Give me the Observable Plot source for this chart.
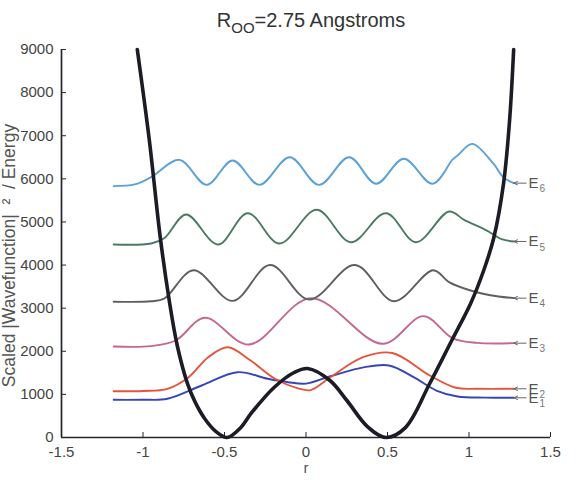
<!DOCTYPE html>
<html>
<head>
<meta charset="utf-8">
<script src="https://cdn.jsdelivr.net/npm/d3@7"></script>
<script src="https://cdn.jsdelivr.net/npm/@observablehq/plot@0.6"></script>
<style>
  html, body { margin: 0; padding: 0; background: #fff; }
  #chart { width: 579px; font-family: "Liberation Sans", Arial, sans-serif; }
  #title { height: 40px; position: relative; color: #333; font-size: 20px; }
  #title span.t { position: absolute; left: 0; width: 622px; text-align: center; top: 9px; }
  #title sub { font-size: 15px; vertical-align: -6px; line-height: 0; }
</style>
</head>
<body>
<div id="chart">
  <div id="title"><span class="t">R<sub>OO</sub>=2.75 Angstroms</span></div>
</div>
<script>
// Axis ticks
const xTicks = [-1.5, -1, -0.5, 0, 0.5, 1, 1.5];
const yTicks = [0, 1000, 2000, 3000, 4000, 5000, 6000, 7000, 8000, 9000];

// Double-well potential along the O–H–O coordinate, [r, V]
const potential = [
  [-1.035, 9000], [-0.961, 6890], [-0.894, 4640], [-0.839, 3178], [-0.790, 2134],
  [-0.727, 1250], [-0.68, 820], [-0.62, 430], [-0.55, 130], [-0.484, 0], [-0.40, 232],
  [-0.337, 557], [-0.196, 1160], [-0.073, 1508], [0.01, 1600], [0.147, 1322],
  [0.251, 858], [0.375, 260], [0.49, 0], [0.61, 230], [0.759, 1253], [0.894, 2250],
  [1.010, 3109], [1.090, 3874], [1.151, 4617], [1.212, 5893], [1.249, 7354], [1.274, 9000]
];

// Scaled |psi|^2 offset by each level's energy, [r, value]
const level1 = [
  [-1.18, 874], [-1.0, 876], [-0.85, 898], [-0.64, 1206], [-0.42, 1515], [-0.235, 1362],
  [-0.11, 1283], [0.0, 1250], [0.15, 1420], [0.36, 1631], [0.51, 1670], [0.66, 1400],
  [0.80, 1090], [0.93, 951], [1.1, 925], [1.275, 921]
];
const level2 = [
  [-1.18, 1074], [-1.0, 1080], [-0.85, 1130], [-0.72, 1400], [-0.60, 1863], [-0.48, 2095],
  [-0.34, 1786], [-0.19, 1362], [-0.05, 1140], [0.03, 1100], [0.15, 1399], [0.35, 1863],
  [0.53, 1960], [0.76, 1438], [0.92, 1153], [1.05, 1130], [1.275, 1130]
];
const level3 = [
  [-1.18, 2110], [-0.95, 2120], [-0.80, 2250], [-0.62, 2777], [-0.35, 2157],
  [0.03, 3230], [0.47, 2173], [0.72, 2815], [0.90, 2300], [1.05, 2195], [1.275, 2188]
];
const level4 = [
  [-1.18, 3150], [-0.95, 3160], [-0.87, 3220], [-0.69, 3880], [-0.45, 3170], [-0.22, 4000],
  [0.02, 3200], [0.30, 4000], [0.54, 3160], [0.78, 3880], [0.88, 3600], [1.01, 3410],
  [1.13, 3300], [1.275, 3232]
];
const level5 = [
  [-1.18, 4477], [-0.95, 4500], [-0.87, 4620], [-0.735, 5173], [-0.54, 4477], [-0.357, 5203],
  [-0.163, 4500], [0.065, 5282], [0.276, 4530], [0.49, 5203], [0.674, 4530], [0.878, 5243],
  [0.97, 5050], [1.11, 4800], [1.2, 4600], [1.275, 4547]
];
const level6 = [
  [-1.18, 5830], [-1.05, 5870], [-0.95, 6040], [-0.776, 6440], [-0.61, 5860], [-0.45, 6425],
  [-0.286, 5860], [-0.10, 6500], [0.08, 5860], [0.265, 6500], [0.43, 5885], [0.60, 6465],
  [0.776, 5885], [0.90, 6450], [0.935, 6560], [1.02, 6810], [1.15, 6350], [1.21, 6040],
  [1.275, 5900]
];

const levels = [level1, level2, level3, level4, level5, level6];
const levelNames = ["1", "2", "3", "4", "5", "6"];
const levelColors = ["#3646b4", "#e4553d", "#c46892", "#5c6064", "#4a7a62", "#5aa2d6"];

// Arrow + label at the right end of each level
const ends = levels.map((s, i) => ({r: s[s.length - 1][0], v: s[s.length - 1][1], name: levelNames[i]}));

const marks = [
  Plot.ruleY([0], {stroke: "#26262e", strokeWidth: 1.7}),
  Plot.ruleX([-1.5], {stroke: "#26262e", strokeWidth: 1.7}),
  Plot.axisX({ticks: xTicks, tickSize: -5, tickPadding: 14, tickFormat: d => String(d), fontSize: 15, stroke: "#26262e", color: "#444"}),
  Plot.axisY({ticks: yTicks, tickSize: -5, tickPadding: 13, tickFormat: d => String(d), fontSize: 15, stroke: "#26262e", color: "#444", label: null}),
  ...levels.map((s, i) => Plot.line(s, {x: d => d[0], y: d => d[1], stroke: levelColors[i], strokeWidth: 1.9, curve: "catmull-rom"})),
  Plot.line(potential, {x: d => d[0], y: d => d[1], stroke: "#1c1c26", strokeWidth: 3.6, curve: "catmull-rom"}),
  Plot.arrow(ends, {x1: d => d.r + 0.075, x2: d => d.r, y1: "v", y2: "v", stroke: "#666", strokeWidth: 1, headLength: 6, headAngle: 50}),
  Plot.text(ends, {x: d => d.r + 0.09, y: "v", text: () => "E", textAnchor: "start", fontSize: 15, fill: "#555"}),
  Plot.text(ends, {x: d => d.r + 0.09, y: "v", text: "name", textAnchor: "start", dx: 11, dy: 6, fontSize: 10, fill: "#777"}),
  Plot.text(["Scaled |Wavefunction|  ²  / Energy"], {frameAnchor: "left", text: d => d, rotate: -90, textAnchor: "middle", lineAnchor: "middle", dx: -52, dy: 12, fontSize: 17.5, fill: "#555"}),
  Plot.text(["r"], {frameAnchor: "bottom", text: d => d, lineAnchor: "middle", dy: 31, fontSize: 15, fill: "#555"})
];

const chart = Plot.plot({
  width: 579,
  height: 440,
  marginTop: 9,
  marginBottom: 43,
  marginLeft: 61,
  marginRight: 29,
  x: {domain: [-1.5, 1.5]},
  y: {domain: [0, 9000]},
  style: {fontFamily: "'Liberation Sans', Arial, sans-serif", background: "#fff", overflow: "visible"},
  marks
});
document.getElementById("chart").appendChild(chart);
</script>
</body>
</html>
